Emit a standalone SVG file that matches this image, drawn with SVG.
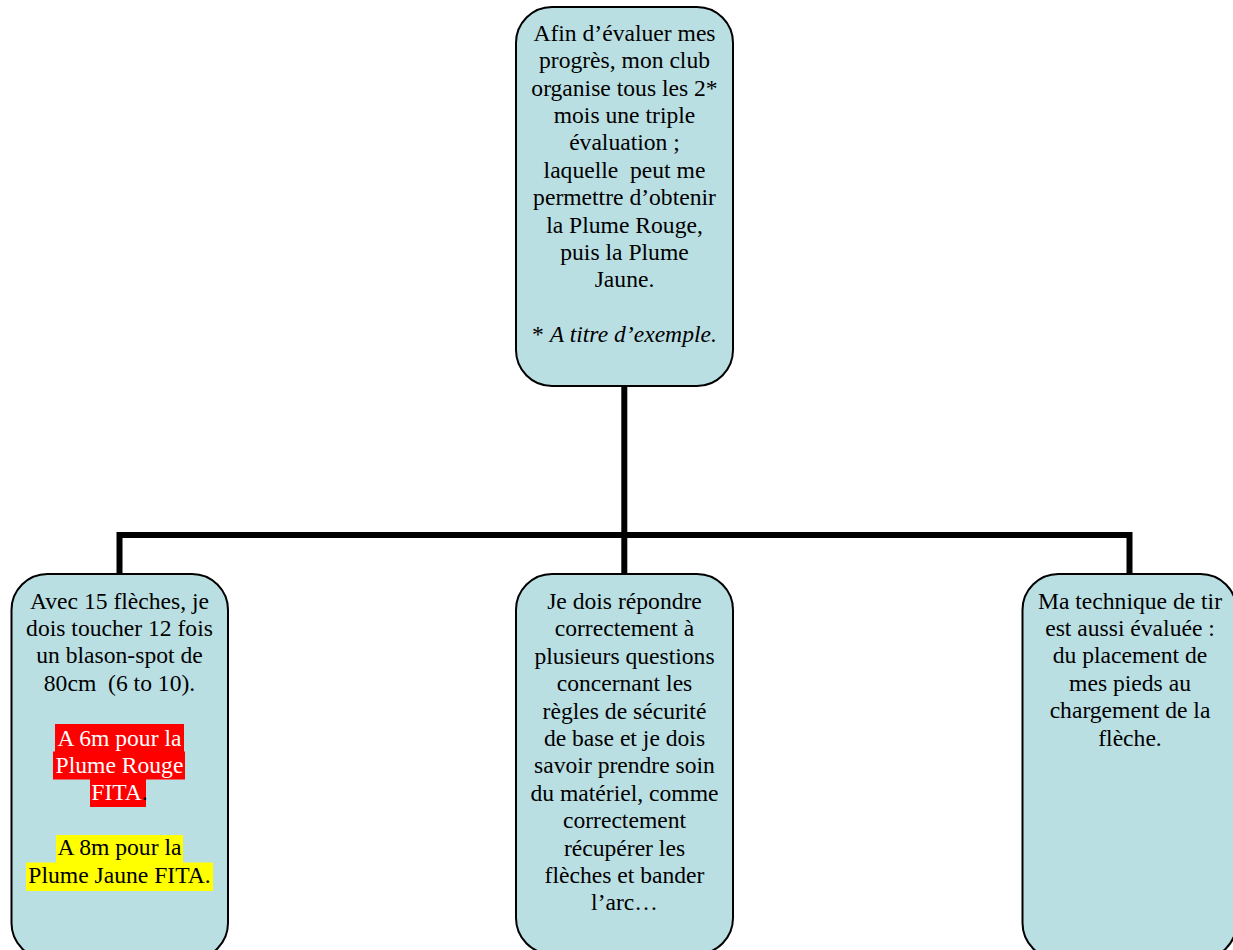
<svg xmlns="http://www.w3.org/2000/svg" width="1233" height="950" viewBox="0 0 1233 950">
<style>
.box{fill:#BADFE3;stroke:#000;stroke-width:2}
.conn{fill:none;stroke:#000;stroke-width:6;stroke-linecap:butt;stroke-linejoin:miter}
.t{font-size:23.6px;text-anchor:middle;fill:#000}
.w{fill:#fff}
.it{font-style:italic}
</style>
<rect width="1233" height="950" fill="#fff"/>
<g id="connectors">
<path class="conn" d="M624.3,386 V535 M119.5,574 V535 H1129.5 V574 M624.3,535 V574"/>
</g>
<g id="node-top">
<rect class="box" x="516" y="7" width="217" height="379" rx="36" ry="36"/>
<text class="t" font-family="'Liberation Serif', 'DejaVu Serif', serif" xml:space="preserve"><tspan x="624.5" y="40.7">Afin d’évaluer mes</tspan><tspan x="624.5" y="68.1">progrès, mon club</tspan><tspan x="624.5" y="95.5">organise tous les 2*</tspan><tspan x="624.5" y="122.9">mois une triple</tspan><tspan x="624.5" y="150.3">évaluation ;</tspan><tspan x="624.5" y="177.7">laquelle  peut me</tspan><tspan x="624.5" y="205.1">permettre d’obtenir</tspan><tspan x="624.5" y="232.5">la Plume Rouge,</tspan><tspan x="624.5" y="259.9">puis la Plume</tspan><tspan x="624.5" y="287.3">Jaune.</tspan><tspan x="624.5" y="342.1">* <tspan class="it">A titre d’exemple.</tspan></tspan></text>
</g>
<g id="node-left">
<rect class="box" x="11.5" y="574" width="216.5" height="385" rx="36" ry="36"/>
<rect x="55" y="724" width="129" height="28" fill="#FF0000"/>
<rect x="53" y="751.5" width="132" height="28" fill="#FF0000"/>
<rect x="90" y="779" width="56" height="28" fill="#FF0000"/>
<rect x="56" y="835" width="127" height="28" fill="#FFFF00"/>
<rect x="26" y="862.5" width="187" height="28.5" fill="#FFFF00"/>
<text class="t" font-family="'Liberation Serif', 'DejaVu Serif', serif" xml:space="preserve"><tspan x="119.5" y="608.5">Avec 15 flèches, je</tspan><tspan x="119.5" y="635.9">dois toucher 12 fois</tspan><tspan x="119.5" y="663.3">un blason-spot de</tspan><tspan x="119.5" y="690.7">80cm  (6 to 10).</tspan><tspan class="w" x="119.5" y="745.5">A 6m pour la</tspan><tspan class="w" x="119.5" y="772.9">Plume Rouge</tspan><tspan x="119.5" y="800.3"><tspan class="w">FITA</tspan>.</tspan><tspan x="119.5" y="855.1">A 8m pour la</tspan><tspan x="119.5" y="882.5">Plume Jaune FITA.</tspan></text>
</g>
<g id="node-middle">
<rect class="box" x="516" y="574" width="217" height="380" rx="36" ry="36"/>
<text class="t" font-family="'Liberation Serif', 'DejaVu Serif', serif" xml:space="preserve"><tspan x="624.5" y="609">Je dois répondre</tspan><tspan x="624.5" y="636.4">correctement à</tspan><tspan x="624.5" y="663.8">plusieurs questions</tspan><tspan x="624.5" y="691.2">concernant les</tspan><tspan x="624.5" y="718.6">règles de sécurité</tspan><tspan x="624.5" y="746">de base et je dois</tspan><tspan x="624.5" y="773.4">savoir prendre soin</tspan><tspan x="624.5" y="800.8">du matériel, comme</tspan><tspan x="624.5" y="828.2">correctement</tspan><tspan x="624.5" y="855.6">récupérer les</tspan><tspan x="624.5" y="883">flèches et bander</tspan><tspan x="624.5" y="910.4">l’arc…</tspan></text>
</g>
<g id="node-right">
<rect class="box" x="1022.5" y="574" width="214" height="385" rx="36" ry="36"/>
<text class="t" font-family="'Liberation Serif', 'DejaVu Serif', serif" xml:space="preserve"><tspan x="1130" y="608.5">Ma technique de tir</tspan><tspan x="1130" y="635.9">est aussi évaluée :</tspan><tspan x="1130" y="663.3">du placement de</tspan><tspan x="1130" y="690.7">mes pieds au</tspan><tspan x="1130" y="718.1">chargement de la</tspan><tspan x="1130" y="745.5">flèche.</tspan></text>
</g>
</svg>
